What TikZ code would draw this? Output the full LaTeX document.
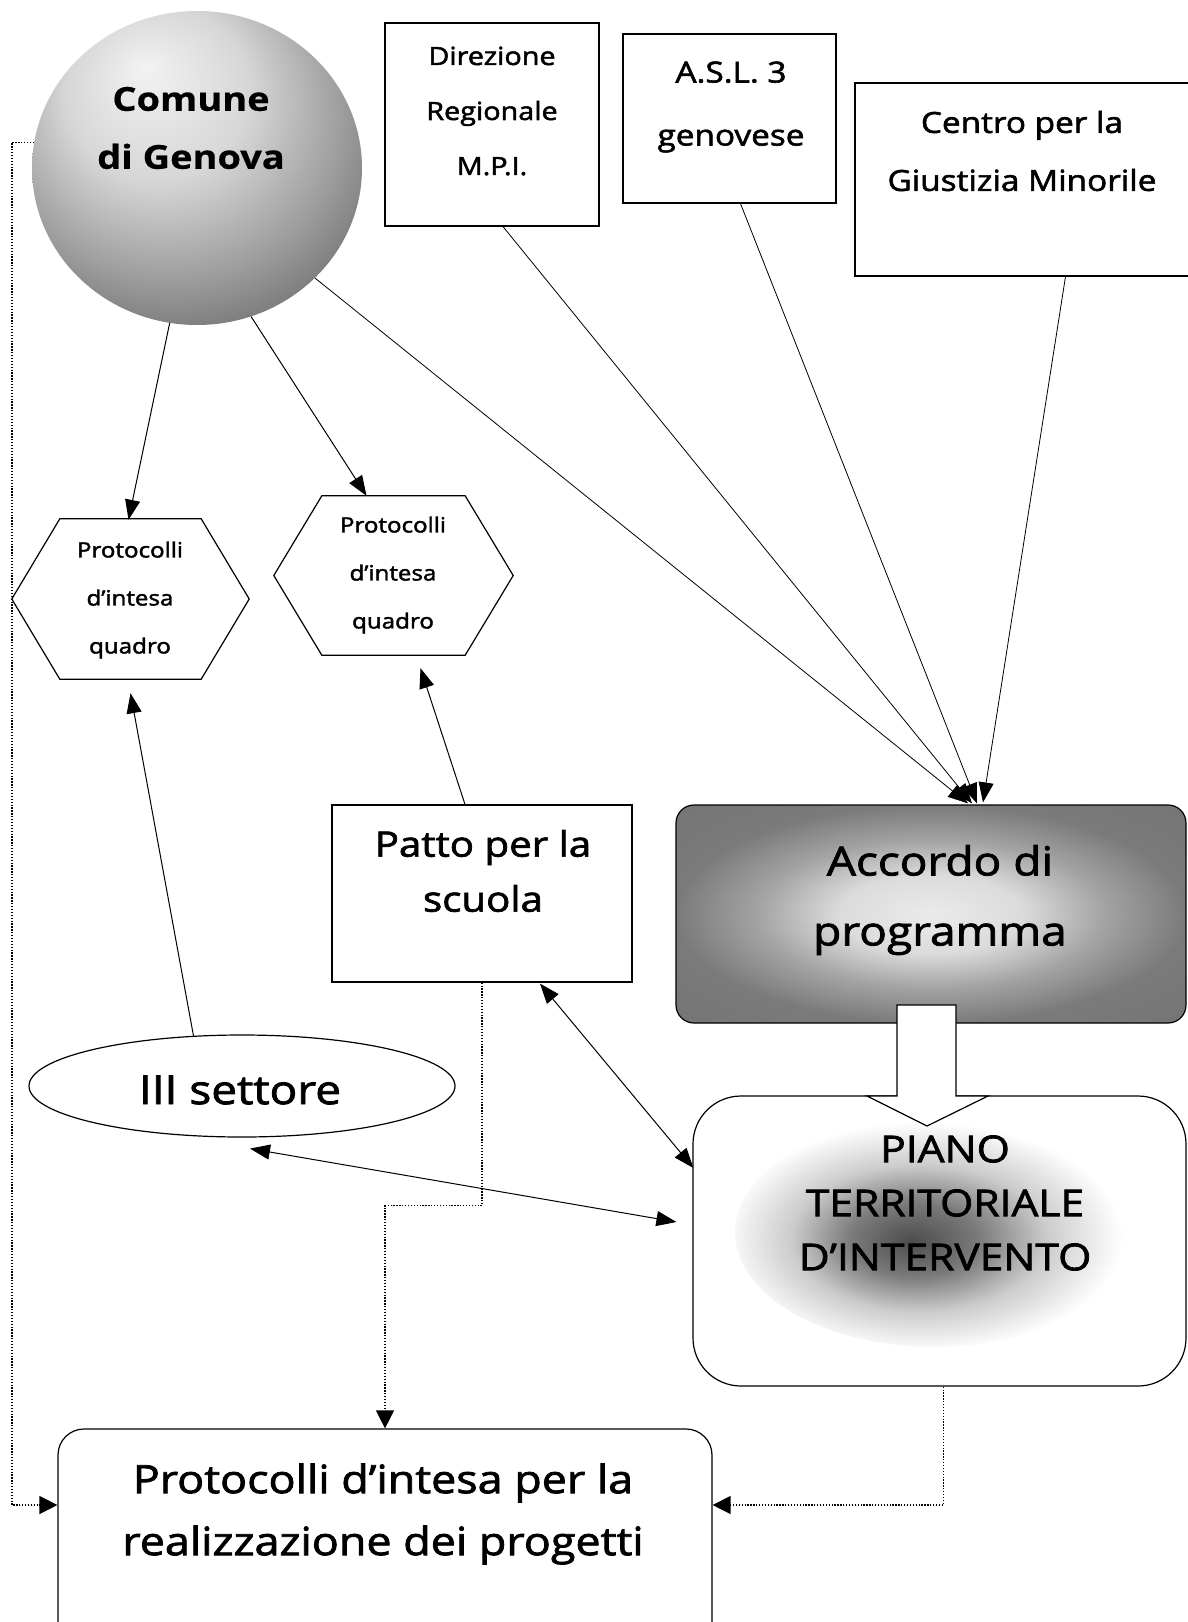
\documentclass[tikz,border=0pt]{standalone}
\usepackage{fontspec}
\setmainfont[FakeStretch=1.15, FakeBold=2, BoldFeatures={FakeBold=0.5}]{Open Sans}
\usetikzlibrary{shapes.geometric,arrows.meta,calc}
\pgfdeclareradialshading{comshade}{\pgfpoint{-8bp}{16bp}}{color(0bp)=(black!5); color(14bp)=(black!16); color(26bp)=(black!38); color(38bp)=(black!62); color(55bp)=(black!76)}
\pgfdeclareradialshading{accshade}{\pgfpoint{0bp}{0bp}}{color(0bp)=(black!8); color(9bp)=(black!14); color(17bp)=(black!36); color(25bp)=(black!52); color(45bp)=(black!56)}
\pgfdeclareradialshading{blobshade}{\pgfpoint{-3bp}{-2bp}}{color(0bp)=(black!70); color(8bp)=(black!52); color(16bp)=(black!20); color(25bp)=(white); color(50bp)=(white)}
\begin{document}
\begin{tikzpicture}[x=1pt,y=-1pt,
  box/.style={draw, line width=1.2pt, rectangle, inner sep=0pt},
  txt/.style={align=center, inner sep=0pt},
  conn/.style={line width=1pt},
  thinconn/.style={line width=0.8pt},
  tip/.style={-{Triangle[length=20pt,width=15pt]}},
  dtip/.style={{Triangle[length=20pt,width=15pt]}-{Triangle[length=20pt,width=15pt]}},
  dotline/.style={line width=1.3pt, dash pattern=on 1.3pt off 1.6pt},
  dottip/.style={-{Triangle[length=18pt,width=18pt]}},
]
\useasboundingbox (0,0) rectangle (1188,1622);
\fill[white] (0,0) rectangle (1188,1622);

% Comune di Genova
\node[ellipse, minimum width=330pt, minimum height=314pt, inner sep=0pt, shade, shading=comshade] (comune) at (197,168) {};
\node[txt, font=\fontsize{33}{58}\selectfont\bfseries] (comunetxt) at (191,128) {Comune\\di Genova};

% top boxes
\node[box, minimum width=214pt, minimum height=203pt] (dir) at (492,124.5) {};
\node[txt, font=\fontsize{25}{55}\selectfont] (dirtxt) at (492,111) {Direzione\\Regionale\\M.P.I.};
\node[box, minimum width=213pt, minimum height=169pt] (asl) at (729.5,118.5) {};
\node[txt, font=\fontsize{29}{63}\selectfont] (asltxt) at (731,107) {A.S.L. 3\\genovese};
\node[box, minimum width=355pt, minimum height=193pt] (centro) at (1032.5,179.5) {};
\node[txt, font=\fontsize{29}{58}\selectfont] (centrotxt) at (1022,151) {Centro per la\\Giustizia Minorile};

% hexagons
\node[minimum width=237pt, minimum height=160pt, inner sep=0pt] (hexA) at (130.5,599) {};
\node[minimum width=239pt, minimum height=159pt, inner sep=0pt] (hexB) at (393.5,575.5) {};
\draw[line width=1.2pt] (hexA.west) -- ($(hexA.north west)+(48,0)$) -- ($(hexA.north east)+(-48,0)$) -- (hexA.east) -- ($(hexA.south east)+(-48,0)$) -- ($(hexA.south west)+(48,0)$) -- cycle;
\draw[line width=1.2pt] (hexB.west) -- ($(hexB.north west)+(48,0)$) -- ($(hexB.north east)+(-48,0)$) -- (hexB.east) -- ($(hexB.south east)+(-48,0)$) -- ($(hexB.south west)+(48,0)$) -- cycle;
\node[txt, font=\fontsize{21}{48}\selectfont] (hexAtxt) at (130,600) {Protocolli\\d’intesa\\quadro};
\node[txt, font=\fontsize{21}{48}\selectfont] (hexBtxt) at (393,575) {Protocolli\\d’intesa\\quadro};

% Patto per la scuola
\node[box, minimum width=300pt, minimum height=177pt] (patto) at (482,893.5) {};
\node[txt, font=\fontsize{35}{55}\selectfont] (pattotxt) at (483,871) {Patto per la\\scuola};

% Accordo di programma
\node[draw, line width=1.2pt, rounded corners=18pt, shade, shading=accshade, minimum width=510pt, minimum height=218pt, inner sep=0pt] (accordo) at (931,914) {};
\node[txt, font=\fontsize{40}{70}\selectfont] (accordotxt) at (940,900) {Accordo di\\programma};

% III settore
\node[ellipse, draw, line width=1.2pt, minimum width=426pt, minimum height=102pt, inner sep=0pt] (settore) at (242,1086) {};
\node[txt, font=\fontsize{40}{48}\selectfont] (settoretxt) at (240,1090) {III settore};

% PIANO
\node[draw, line width=1.2pt, rounded corners=48pt, fill=white, minimum width=493pt, minimum height=290pt, inner sep=0pt] (piano) at (939.5,1241) {};
\shade[shading=blobshade] (935,1232) ellipse [x radius=200pt, y radius=115pt];
\draw[line width=1.2pt, fill=white] (897,1005) -- (897,1096) -- (867,1096) -- (927,1126) -- (988,1096) -- (956,1096) -- (956,1005) -- cycle;
\node[txt, font=\fontsize{37}{54}\selectfont] (pianotxt) at (945,1203) {PIANO\\TERRITORIALE\\D’INTERVENTO};

% bottom box
\node[draw, line width=1.2pt, rounded corners=26pt, minimum width=654pt, minimum height=221pt, inner sep=0pt] (bottom) at (385,1539.5) {};
\node[txt, font=\fontsize{39}{62}\selectfont] (bottomtxt) at (383,1514) {Protocolli d’intesa per la\\realizzazione dei progetti};

% solid connectors
\draw[conn, tip] (comune.-100) -- ($(hexA.north)+(-2,1)$);
\draw[conn, tip] (comune.-70) -- ($(hexB.north)+(-27,0)$);
\draw[thinconn, tip] (comune.-43) -- ($(accordo.north)+(37,-1)$);
\draw[thinconn, tip] ($(dir.south)+(11,0)$) -- ($(accordo.north)+(41,-1)$);
\draw[thinconn, tip] ($(asl.south)+(11,0)$) -- ($(accordo.north)+(46,-1)$);
\draw[thinconn, tip] ($(centro.south)+(33,0)$) -- ($(accordo.north)+(52,-2)$);
\draw[conn, tip] (settore.134) -- ($(hexA.south)+(0,14)$);
\draw[conn, tip] ($(patto.north)+(-17,0)$) -- ($(hexB.south)+(27,13)$);
\draw[conn, dtip] ($(patto.south)+(58,1)$) -- ($(piano.west)+(1,-73)$);
\draw[conn, dtip] ($(settore.south)+(8,11)$) -- ($(piano.west)+(-16,-19)$);

% dotted connectors
\coordinate (lrail) at (12,0);
\draw[dotline, dottip] (comune.171) -- (comune.171 -| lrail) |- ($(bottom.west)+(0,-34.5)$);
\draw[dotline, dottip] (patto.south) -- ++(0,223) -| (bottom.north);
\draw[dotline, dottip] ($(piano.south)+(4,0)$) |- ($(bottom.east)+(0,-34.5)$);
\end{tikzpicture}
\end{document}
